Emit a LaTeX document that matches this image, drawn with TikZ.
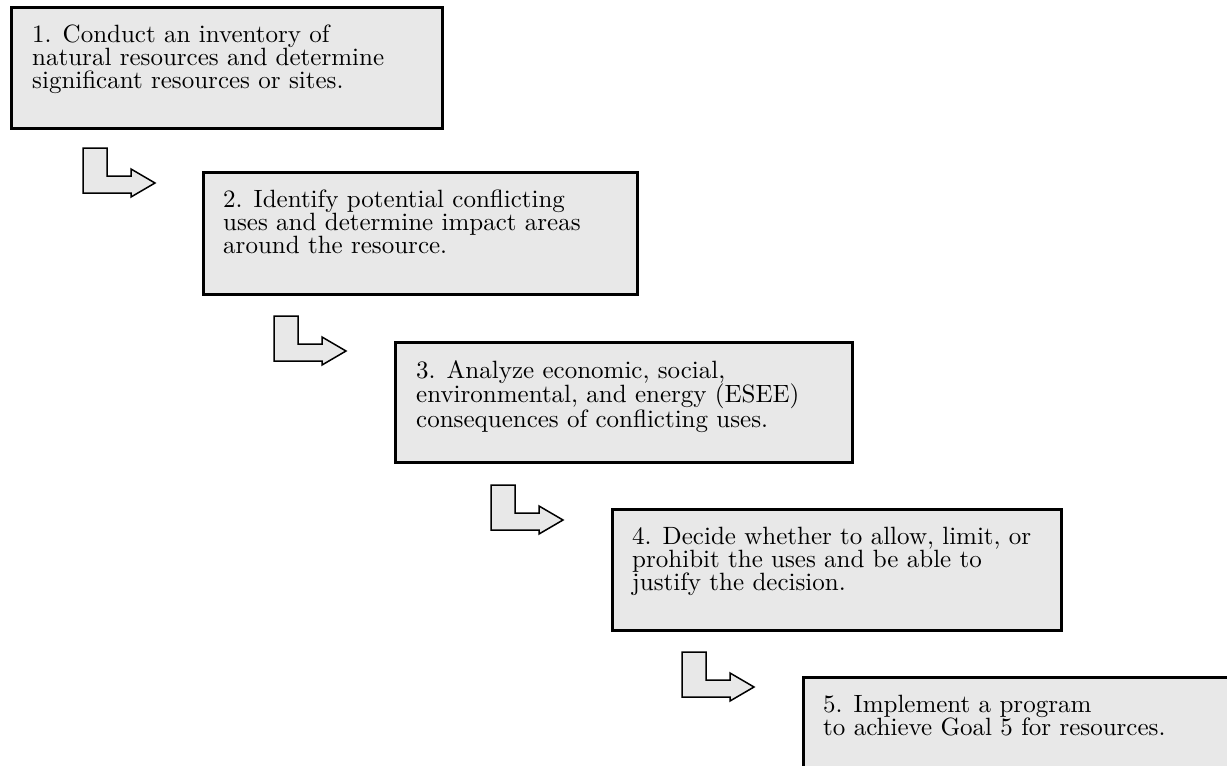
\documentclass[tikz,border=0pt]{standalone}
\usepackage{fontspec}
\setmainfont{lmroman10-regular}[Extension=.otf]
\tikzset{
  stepbox/.style={draw=black,line width=2.5pt,fill=black!9,rectangle,inner sep=0pt,anchor=north west},
  steptext/.style={inner sep=0pt,anchor=north west,align=left,font=\fontsize{25}{23}\selectfont},
  larrow/.pic={\draw[line width=1.5pt,fill=black!9] (0,0)--(24,0)--(24,28)--(48,28)--(48,21)--(72,35)--(48,49)--(48,45)--(0,45)--cycle;}
}
\begin{document}
\begin{tikzpicture}[x=1pt,y=-1pt]
\clip (0,0) rectangle (1227,766);
% the five steps
\node[stepbox,minimum width=431pt,minimum height=121pt] (s1) at (10,6) {};
\node[stepbox,minimum width=434pt,minimum height=122pt] (s2) at (202,171) {};
\node[stepbox,minimum width=457pt,minimum height=120pt] (s3) at (394,341) {};
\node[stepbox,minimum width=449pt,minimum height=121pt] (s4) at (611,508) {};
\node[stepbox,minimum width=460pt,minimum height=130pt] (s5) at (802,676) {};
\node[steptext] (t1) at ([shift={(22,19)}]s1.north west) {1. Conduct an inventory of\\natural resources and determine\\significant resources or sites.};
\node[steptext] (t2) at ([shift={(21,19)}]s2.north west) {2. Identify potential conflicting\\uses and determine impact areas\\around the resource.};
\node[steptext] (t3) at ([shift={(22,19)}]s3.north west) {3. Analyze economic, social,\\environmental, and energy (ESEE)\\consequences of conflicting uses.};
\node[steptext] (t4) at ([shift={(21,19)}]s4.north west) {4. Decide whether to allow, limit, or\\prohibit the uses and be able to\\justify the decision.};
\node[steptext] (t5) at ([shift={(21,19)}]s5.north west) {5. Implement a program\\to achieve Goal 5 for resources.};
% arrows between steps
\foreach \p in {(83,148),(274,316),(491,485),(682,652)}
  \pic at \p {larrow};
\end{tikzpicture}
\end{document}
